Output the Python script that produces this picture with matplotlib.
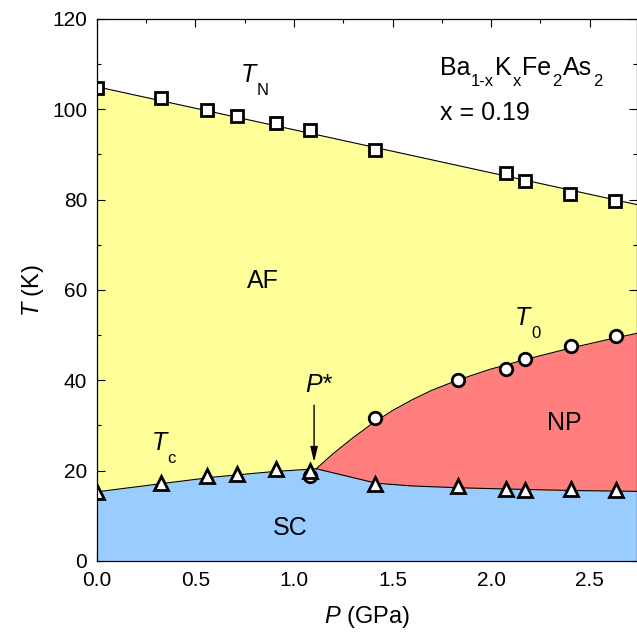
import matplotlib
matplotlib.use('Agg')
import matplotlib.pyplot as plt
import numpy as np
from matplotlib.ticker import MultipleLocator
from matplotlib.transforms import offset_copy

plt.rcParams['font.family'] = ['Liberation Sans', 'DejaVu Sans']
plt.rcParams['mathtext.fontset'] = 'custom'
plt.rcParams['mathtext.rm'] = 'Liberation Sans'
plt.rcParams['mathtext.it'] = 'Liberation Sans:italic'

# ---- data ----
# T_N (squares)
p_tn = [0.0, 0.325, 0.561, 0.711, 0.911, 1.082, 1.413, 2.074, 2.173, 2.402, 2.630]
t_tn = [104.8, 102.6, 99.8, 98.6, 97.0, 95.5, 91.0, 85.9, 84.2, 81.2, 79.6]

# T_0 (circles)
p_t0 = [1.082, 1.413, 1.834, 2.074, 2.173, 2.404, 2.632]
t_t0 = [18.8, 31.7, 40.1, 42.5, 44.7, 47.7, 49.9]

# T_c (triangles)
p_tc = [0.0, 0.325, 0.561, 0.711, 0.911, 1.082, 1.413, 1.834, 2.074, 2.173, 2.404, 2.632]
t_tc = [15.3, 17.3, 18.9, 19.3, 20.4, 20.0, 17.0, 16.7, 16.0, 15.7, 16.0, 15.7]

# phase boundaries (guide lines)
p_tn_line = [0.0, 2.74]
t_tn_line = [105.0, 78.9]

p_t0_line = [1.113, 1.2, 1.3, 1.4, 1.5, 1.6, 1.7, 1.834, 2.0, 2.2, 2.4, 2.6, 2.74]
t_t0_line = [20.4, 23.8, 27.3, 30.5, 33.3, 35.7, 37.8, 40.1, 42.5, 44.9, 47.1, 49.1, 50.4]

p_tc_line = [0.0, 0.325, 0.6, 0.9, 1.113, 1.266, 1.418, 1.6, 1.834, 2.1, 2.4, 2.74]
t_tc_line = [15.3, 17.1, 18.6, 19.8, 20.4, 18.8, 17.2, 16.6, 16.2, 15.9, 15.6, 15.4]

p_star = 1.102

fig = plt.figure(figsize=(6.37, 6.44), dpi=100)
ax = fig.add_axes([0.152, 0.129, 0.848, 0.8415])
renderer = fig.canvas.get_renderer()


def rich_text(x, y, parts):
    # parts: (string, fontsize, drop in pixels, italic?) written one after the other
    dx = 0
    for s, size, drop, italic in parts:
        tr = offset_copy(ax.transData, fig=fig, x=dx, y=-drop, units='dots')
        t = ax.text(x, y, s, fontsize=size, style='italic' if italic else 'normal',
                    transform=tr, zorder=5)
        dx += t.get_window_extent(renderer).width + 1


# ---- coloured regions ----
ax.fill_between(p_tn_line, 0, t_tn_line, color='#FFFF99', lw=0, zorder=1)
ax.fill_between(p_tc_line, 0, t_tc_line, color='#99CCFF', lw=0, zorder=2)
tc_on_t0 = np.interp(p_t0_line, p_tc_line, t_tc_line)
ax.fill_between(p_t0_line, tc_on_t0, t_t0_line, color='#FF7F7F', lw=0, zorder=2)

# ---- boundary lines ----
ax.plot(p_tn_line, t_tn_line, color='k', lw=0.8, zorder=3)
ax.plot(p_t0_line, t_t0_line, color='k', lw=0.8, zorder=3)
ax.plot(p_tc_line, t_tc_line, color='k', lw=0.8, zorder=3)

# ---- data points ----
mk = dict(ls='none', mfc='white', mec='black', mew=2.0, zorder=4)
ax.plot(p_tn, t_tn, marker='s', ms=8, **mk)
ax.plot(p_t0, t_t0, marker='o', ms=9, **mk)
ax.plot(p_tc, t_tc, marker='^', ms=10, **mk)

# ---- labels inside the plot ----
rich_text(0.73, 106.0, [('T', 18, 0, True), ('N', 12, 13, False)])
rich_text(2.12, 52.2, [('T', 18, 0, True), ('0', 12, 13, False)])
rich_text(0.277, 24.6, [('T', 18, 0, True), ('c', 12, 13, False)])
rich_text(1.739, 107.7, [('Ba', 18, 0, False), ('1-x', 12, 11, False), ('K', 18, 0, False),
                         ('x', 12, 11, False), ('Fe', 18, 0, False), ('2', 12, 11, False),
                         ('As', 18, 0, False), ('2', 12, 11, False)])
ax.text(1.739, 97.7, 'x = 0.19', fontsize=18)
ax.text(0.76, 60.5, 'AF', fontsize=18)
ax.text(1.055, 37.4, 'P*', fontsize=18, style='italic')
ax.text(0.893, 5.8, 'SC', fontsize=18)
ax.text(2.285, 29.0, 'NP', fontsize=18)

ax.annotate('', xy=(p_star, 21.3), xytext=(p_star, 35.1),
            arrowprops=dict(arrowstyle='-|>,head_length=0.9,head_width=0.22', color='k', lw=1.0),
            zorder=5)

# ---- axes ----
ax.set_xlim(0, 2.74)
ax.set_ylim(0, 120)
ax.xaxis.set_major_locator(MultipleLocator(0.5))
ax.xaxis.set_minor_locator(MultipleLocator(0.25))
ax.yaxis.set_major_locator(MultipleLocator(20))
ax.yaxis.set_minor_locator(MultipleLocator(10))
ax.xaxis.set_major_formatter(plt.FormatStrFormatter('%.1f'))
ax.tick_params(which='both', direction='in', top=True, right=True, width=0.8, labelsize=15)
ax.tick_params(which='major', length=5.5, pad=7)
ax.tick_params(which='minor', length=3)
for s in ax.spines.values():
    s.set_linewidth(0.9)
    s.set_zorder(6)

ax.set_xlabel(r'$\mathit{P}$ (GPa)', fontsize=17, labelpad=10)
ax.set_ylabel(r'$\mathit{T}$ (K)', fontsize=17, labelpad=4)

plt.savefig('out.png', dpi=100)
